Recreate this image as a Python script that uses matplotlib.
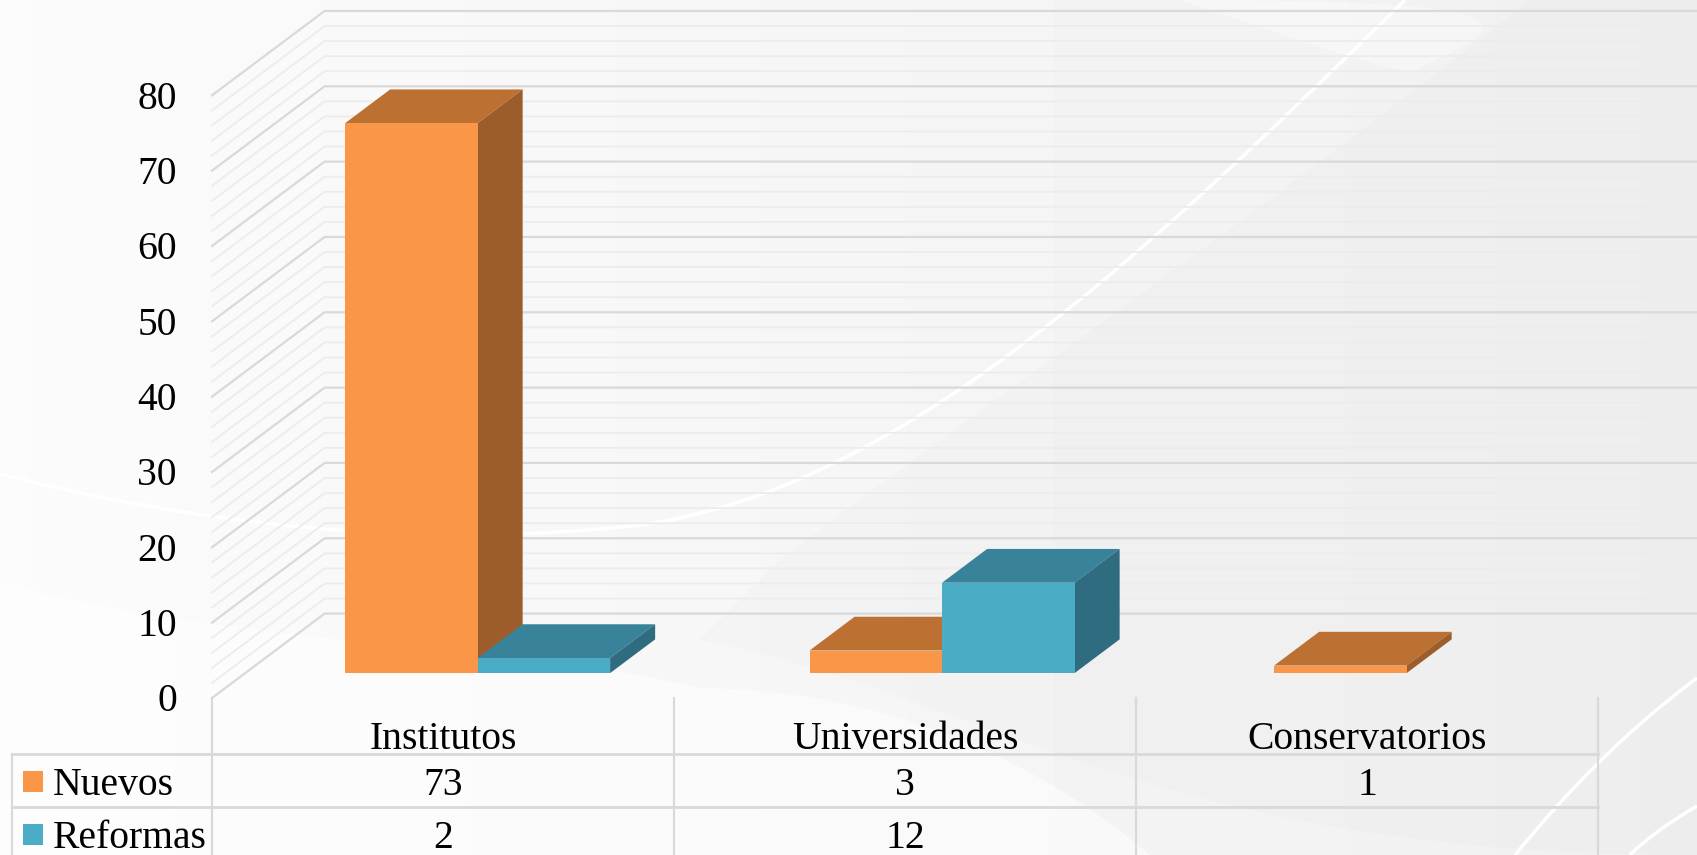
import numpy as np
import matplotlib
matplotlib.use("Agg")
import matplotlib.pyplot as plt
from matplotlib.path import Path
from matplotlib.patches import PathPatch, Polygon

categories = ["Institutos", "Universidades", "Conservatorios"]
series_names = ["Nuevos", "Reformas"]
nuevos = [73, 3, 1]
reformas = [2, 12, None]
y_ticks = [0, 10, 20, 30, 40, 50, 60, 70, 80]

W, H = 1697, 855
X0, Y0 = 212, 698      # pixel of front left corner, value 0
CAT_W = 462            # pixels per category
VAL_H = 7.533          # pixels per unit of value
DEPTH_X = 112.6 / CAT_W
DEPTH_Y = 84.4 / VAL_H

ORANGE = ("#FA9648", "#BC7133", "#9C5D2A")
TEAL = ("#4BACC6", "#38829A", "#2F6C7F")
MAJOR = "#d9d9d9"
MINOR = "#ececec"
FONT = "Liberation Serif"
FS = 28.5
TEXT_BIAS = 3.7        # text sits a bit above its anchor, in pixels


def px(x, y):
    # figure pixel (from reference top left) to data coords
    return (x - X0) / CAT_W, (Y0 - y) / VAL_H


def draw_background(ax):
    grad = np.linspace(0.985, 0.94, 256).reshape(1, -1)
    x1, y1 = px(0, 0)
    x2, y2 = px(W, H)
    ax.imshow(grad, extent=(x1, x2, y2, y1), cmap="gray", vmin=0, vmax=1,
              aspect="auto", zorder=0, interpolation="bilinear")

    def shape(points, codes, **kw):
        p = Path([px(*q) for q in points], codes)
        ax.add_patch(PathPatch(p, zorder=1, lw=kw.pop("lw", 0), **kw))

    M, L, C = Path.MOVETO, Path.LINETO, Path.CURVE4
    # darker sweep on the right
    shape([(1530, 0), (1200, 260), (960, 420), (780, 560), (700, 640), (1000, 700),
           (1150, 855), (W, 855), (W, 0), (1530, 0)],
          [M, C, C, C, L, C, C, L, L, L], fc="#808080", alpha=0.018)
    # pale band at the bottom left
    shape([(0, 582), (250, 650), (500, 640), (700, 688), (900, 690), (1050, 770),
           (1150, 855), (0, 855), (0, 582)],
          [M, C, C, C, C, C, C, L, L], fc="white", alpha=0.55)
    # pale flare at the top right
    shape([(1180, 0), (1300, 40), (1350, 60), (1410, 72), (1500, 30), (1580, 0), (1180, 0)],
          [M, C, C, C, C, C, L], fc="white", alpha=0.35)
    # white streaks
    shape([(0, 474), (200, 525), (420, 550), (640, 525), (900, 490), (1150, 250), (1405, 0)],
          [M, C, C, C, C, C, C], fc="none", ec="white", lw=2.5)
    shape([(W, 678), (1620, 735), (1560, 800), (1515, 855)], [M, C, C, C],
          fc="none", ec="white", lw=2.5)
    shape([(W, 806), (1665, 825), (1645, 840), (1630, 855)], [M, C, C, C],
          fc="none", ec="white", lw=2.5)


def draw_grid(ax):
    right = px(W, 0)[0]
    for v in np.arange(y_ticks[0], y_ticks[-1] + 1, 2):
        major = v % 10 == 0
        color = MAJOR if major else MINOR
        lw = 1.6 if major else 1.3
        ax.plot([0, DEPTH_X, right], [v, v + DEPTH_Y, v + DEPTH_Y], color=color, lw=lw,
                zorder=2, solid_joinstyle="miter")


def draw_bar(ax, x, width, value, colors):
    d0, d1 = 0.295, 0.695   # depth range of the bar inside the floor
    xa = x + d0 * DEPTH_X
    xb = xa + width
    base = d0 * DEPTH_Y
    sx = (d1 - d0) * DEPTH_X
    sy = (d1 - d0) * DEPTH_Y
    top = base + value
    ax.add_patch(Polygon([(xa, top), (xb, top), (xb + sx, top + sy), (xa + sx, top + sy)],
                         fc=colors[1], ec="none", zorder=3))
    ax.add_patch(Polygon([(xb, base), (xb, top), (xb + sx, top + sy), (xb + sx, base + sy)],
                         fc=colors[2], ec="none", zorder=3))
    ax.add_patch(Polygon([(xa, base), (xb, base), (xb, top), (xa, top)],
                         fc=colors[0], ec="none", zorder=3))


def draw_table(ax):
    left = px(12, 0)[0]
    bottom = px(0, H)[1]
    n = len(categories)
    for i in range(n + 1):
        ax.plot([i, i], [0, bottom], color=MAJOR, lw=1.6, zorder=2)
    for line_y in (754, 807):
        y = px(0, line_y)[1]
        ax.plot([left, n], [y, y], color=MAJOR, lw=2, zorder=2)
    ax.plot([left, left], [px(0, 754)[1], bottom], color=MAJOR, lw=1.6, zorder=2)

    kw = dict(family=FONT, fontsize=FS, color="black", ha="center", va="center", zorder=5)
    row1 = px(0, 739)[1]
    row2 = px(0, 785)[1]
    row3 = px(0, 838)[1]
    for i, c in enumerate(categories):
        ax.text(i + 0.5, row1, c, **kw)
        ax.text(i + 0.5, row2, str(nuevos[i]), **kw)
        if reformas[i] is not None:
            ax.text(i + 0.5, row3, str(reformas[i]), **kw)

    for name, y, col in zip(series_names, (row2, row3), (ORANGE[0], TEAL[0])):
        xs = px(23, 0)[0]
        yc = y + TEXT_BIAS / VAL_H
        ax.add_patch(Polygon([(xs, yc - 1.4), (xs + 20 / CAT_W, yc - 1.4),
                              (xs + 20 / CAT_W, yc + 1.4), (xs, yc + 1.4)],
                             fc=col, ec="none", zorder=5))
        ax.text(px(53, 0)[0], y, name, family=FONT, fontsize=FS, color="black",
                ha="left", va="center", zorder=5)


fig = plt.figure(figsize=(W / 100, H / 100), dpi=100)
ax = fig.add_axes([0, 0, 1, 1])
ax.set_xlim(px(0, 0)[0], px(W, 0)[0])
ax.set_ylim(px(0, H)[1], px(0, 0)[1])
ax.axis("off")

draw_background(ax)
draw_grid(ax)

bar_w = 132.5 / CAT_W
step = 464.5 / CAT_W
for i in range(len(categories)):
    x = i * step + 0.2162
    draw_bar(ax, x, bar_w, nuevos[i], ORANGE)
    if reformas[i] is not None:
        draw_bar(ax, x + bar_w, bar_w, reformas[i], TEAL)

draw_table(ax)

for v in y_ticks:
    ax.text(px(177, 0)[0], v - TEXT_BIAS / VAL_H, str(v), family=FONT, fontsize=FS, color="black",
            ha="right", va="center", zorder=5)

fig.savefig("out.png", dpi=100)
